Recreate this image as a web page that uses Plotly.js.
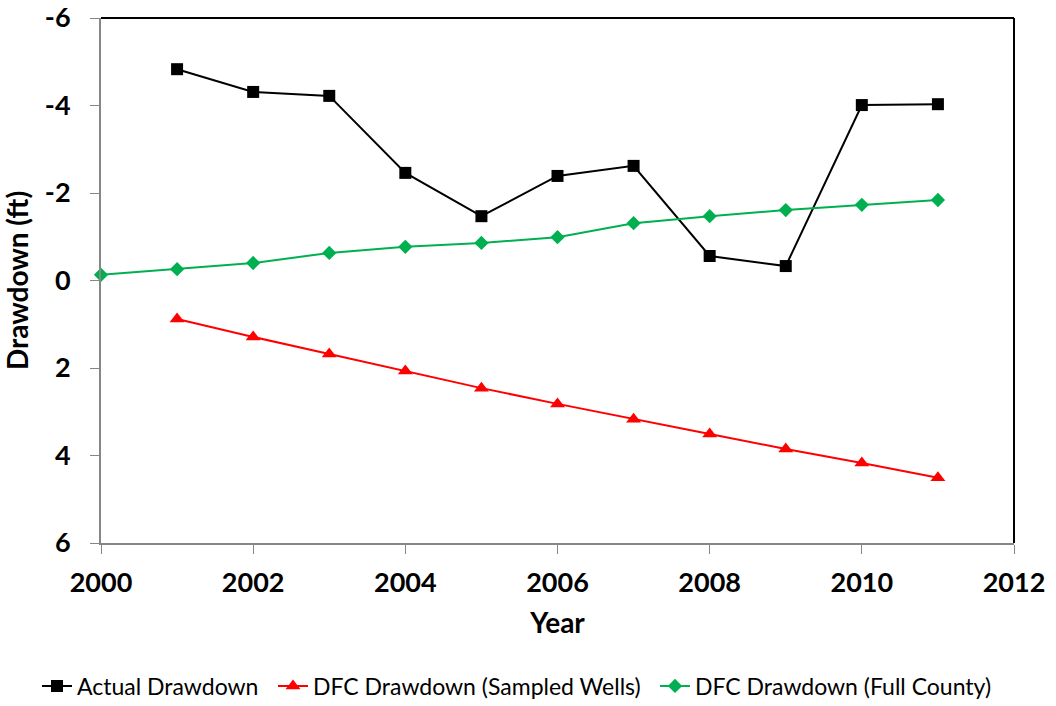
<!DOCTYPE html>
<html>
<head>
<meta charset="utf-8">
<script src="https://cdn.plot.ly/plotly-3.0.1.min.js"></script>
<style>html,body{margin:0;padding:0;background:#fff;}#chart{width:1056px;height:706px;}</style>
</head>
<body>
<div id="chart"></div>
<script>
const years = [2000, 2001, 2002, 2003, 2004, 2005, 2006, 2007, 2008, 2009, 2010, 2011];
const actualYears = [2001, 2002, 2003, 2004, 2005, 2006, 2007, 2008, 2009, 2010, 2011];
const actualDrawdown = [-4.83, -4.31, -4.22, -2.46, -1.47, -2.39, -2.62, -0.56, -0.33, -4.01, -4.03];
const sampledYears = [2001, 2002, 2003, 2004, 2005, 2006, 2007, 2008, 2009, 2010, 2011];
const sampledDrawdown = [0.88, 1.29, 1.68, 2.07, 2.46, 2.82, 3.17, 3.51, 3.85, 4.17, 4.51];
const countyDrawdown = [-0.13, -0.26, -0.40, -0.63, -0.77, -0.86, -0.99, -1.31, -1.47, -1.61, -1.73, -1.84];
const xTicks = [2000, 2002, 2004, 2006, 2008, 2010, 2012];
const yTicks = [-6, -4, -2, 0, 2, 4, 6];

const font = "Lato, 'Open Sans', sans-serif";

const traces = [
  {x: actualYears, y: actualDrawdown, name: 'Actual Drawdown', mode: 'lines+markers', legend: 'legend',
   line: {color: '#000000', width: 2}, marker: {symbol: 'square', size: 12, color: '#000000'}, cliponaxis: false},
  {x: sampledYears, y: sampledDrawdown, name: 'DFC Drawdown (Sampled Wells)', mode: 'lines+markers', legend: 'legend2',
   line: {color: '#ff0000', width: 2}, marker: {symbol: 'triangle-up', size: 13, color: '#ff0000'}, cliponaxis: false},
  {x: years, y: countyDrawdown, name: 'DFC Drawdown (Full County)', mode: 'lines+markers', legend: 'legend3',
   line: {color: '#00b050', width: 2}, marker: {symbol: 'diamond', size: 11, color: '#00b050'}, cliponaxis: false}
];

function legendAt(leftPx) {
  return {orientation: 'h', xref: 'container', x: leftPx / 1056, xanchor: 'left',
          yref: 'container', y: 20 / 706, yanchor: 'middle', bgcolor: 'rgba(0,0,0,0)',
          font: {family: font, size: 23, color: '#000000'}, itemwidth: 30};
}

const layout = {
  width: 1056, height: 706,
  margin: {l: 101, r: 42, t: 18, b: 163, autoexpand: false},
  paper_bgcolor: '#ffffff', plot_bgcolor: '#ffffff',
  font: {family: font, color: '#000000'},
  showlegend: true,
  legend: legendAt(37),
  legend2: legendAt(273),
  legend3: legendAt(655),
  xaxis: {
    range: [2000, 2012], tickvals: xTicks, ticktext: xTicks.map(String), automargin: false,
    showgrid: false, zeroline: false, showline: true, linecolor: '#868686', linewidth: 2,
    ticks: 'outside', ticklen: 9, tickcolor: '#868686', tickwidth: 1,
    tickfont: {family: font, size: 27, color: '#000000', weight: 'bold'}, ticklabelstandoff: 6,
    title: {text: 'Year', font: {family: font, size: 28, color: '#000000', weight: 'bold'}, standoff: 16}
  },
  yaxis: {
    range: [6, -6], tickvals: yTicks, ticktext: yTicks.map(String), automargin: false,
    showgrid: false, zeroline: false, showline: true, linecolor: '#868686', linewidth: 2,
    ticks: 'outside', ticklen: 9, tickcolor: '#868686', tickwidth: 1,
    tickfont: {family: font, size: 27, color: '#000000', weight: 'bold'}, ticklabelstandoff: 14,
    title: {text: 'Drawdown (ft)', font: {family: font, size: 28, color: '#000000', weight: 'bold'}, standoff: 12}
  },
  shapes: [
    {type: 'line', xref: 'paper', yref: 'paper', x0: 0, x1: 1, y0: 1, y1: 1, line: {color: '#000000', width: 2}},
    {type: 'line', xref: 'paper', yref: 'paper', x0: 1, x1: 1, y0: 0, y1: 1, line: {color: '#000000', width: 2}}
  ]
};

Plotly.newPlot('chart', traces, layout, {displayModeBar: false, staticPlot: true});
</script>
</body>
</html>
